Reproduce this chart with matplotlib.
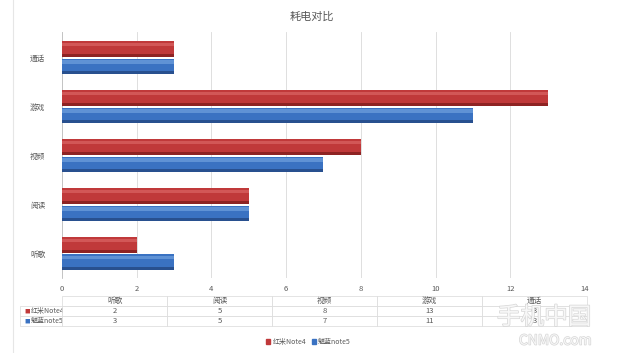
"""Power consumption comparison chart (horizontal bars + data table)."""
import matplotlib
matplotlib.use("Agg")
import matplotlib.pyplot as plt
import matplotlib.patheffects as pe
import numpy as np
from matplotlib.patches import Patch
from matplotlib.lines import Line2D

plt.rcParams["font.family"] = ["Noto Sans CJK SC", "DejaVu Sans"]

TITLE = "耗电对比"
CATEGORIES = ["听歌", "阅读", "视频", "游戏", "通话"]
SERIES_NAMES = ["红米Note4", "魅蓝note5"]
REDMI = [2, 5, 8, 13, 3]
MEIZU = [3, 5, 7, 11, 3]
XTICKS = [0, 2, 4, 6, 8, 10, 12, 14]

RED = ["#8e2323", "#c0393a", "#e2706f"]    # dark edge, body, highlight
BLUE = ["#28508f", "#3a72c2", "#7eaee6"]
TEXT = "#595959"
GRID = "#d9d9d9"
FS = 5.5


def _bar3d(ax, y, values, shades, h):
    dark, body, light = shades
    ax.barh(y, values, height=h, color=dark, zorder=3)
    ax.barh(y + 0.03, values, height=h - 0.06, color=body, zorder=4)
    ax.barh(y + h * 0.28, values, height=h * 0.22, color=light, alpha=0.55,
            zorder=5, linewidth=0)


fig = plt.figure(figsize=(6.17, 3.53), dpi=100)
ax = fig.add_axes([0.1005, 0.2125, 0.8475, 0.6965])

y = np.arange(len(CATEGORIES))
h = 0.31
_bar3d(ax, y + 0.175, REDMI, RED, h)
_bar3d(ax, y - 0.175, MEIZU, BLUE, h)

ax.set_xlim(0, 14)
ax.set_ylim(-0.5, 4.52)
ax.set_xticks(XTICKS)
ax.set_yticks(y)
ax.set_yticklabels(CATEGORIES)
ax.tick_params(length=0, labelsize=FS, colors=TEXT)
ax.tick_params(axis="x", pad=5)
ax.tick_params(axis="y", pad=12)
ax.grid(axis="x", color=GRID, linewidth=0.6, zorder=0)
for s in ["top", "right", "bottom"]:
    ax.spines[s].set_visible(False)
ax.spines["left"].set_color("#bfbfbf")
ax.spines["left"].set_linewidth(0.6)

fig.text(0.506, 0.952, TITLE, ha="center", va="center", fontsize=8, color=TEXT)

# data table under the axis
cell_text = [[""] + CATEGORIES]
for name, vals in zip(SERIES_NAMES, [REDMI, MEIZU]):
    cell_text.append([name] + [str(v) for v in vals])
tbl = ax.table(cellText=cell_text, cellLoc="center",
               colWidths=[0.08] + [0.2] * len(CATEGORIES),
               bbox=[-0.08, -0.195, 1.084, 0.122])
tbl.auto_set_font_size(False)
tbl.set_fontsize(FS)
for (r, c), cell in tbl.get_celld().items():
    cell.set_edgecolor(GRID)
    cell.set_linewidth(0.5)
    cell.get_text().set_color(TEXT)
    if c == 0:
        cell.get_text().set_ha("left")
        cell.get_text().set_fontsize(5)
        cell.PAD = 0.26
    if r == 0 and c == 0:
        cell.visible_edges = ""
row_h = 0.122 / 3
for i, col in enumerate([RED[1], BLUE[1]]):
    ax.text(-0.072, -0.073 - row_h * (i + 1.5), "■", transform=ax.transAxes,
            fontsize=4, color=col, ha="left", va="center")

handles = [Patch(color=RED[1]), Patch(color=BLUE[1])]
fig.legend(handles, SERIES_NAMES, loc="center", bbox_to_anchor=(0.5, 0.031),
           ncol=2, frameon=False, fontsize=5, handlelength=0.6, handleheight=0.6,
           handletextpad=0.3, columnspacing=0.8, labelcolor=TEXT)

# faint frame line on the left edge of the picture
fig.add_artist(Line2D([0.021, 0.021], [0, 1], color="#e6e6e6", linewidth=0.8))

# watermark
wm = [pe.withStroke(linewidth=1.0, foreground="#d6d6d6")]
fig.text(0.882, 0.1, "手机中国", fontsize=17, color="#f7f7f7",
         ha="center", va="center", path_effects=wm)
fig.text(0.9, 0.035, "CNMO.com", fontsize=10, color="#f7f7f7",
         ha="center", va="center", path_effects=wm)

fig.savefig("out.png", dpi=100)
